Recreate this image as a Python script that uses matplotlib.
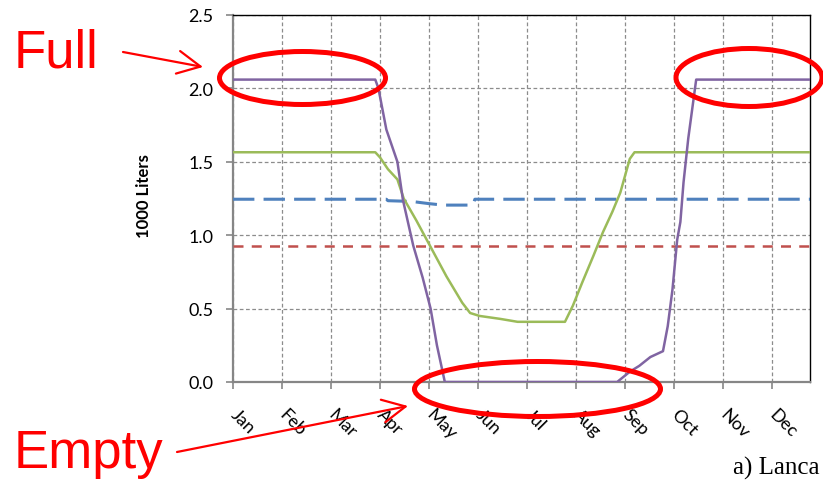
import matplotlib.pyplot as plt
from matplotlib.patches import Ellipse

W, H = 823, 481

# Tank level over the year (day of year -> 1000 liters)
purple_days = [0, 90, 92, 97, 104, 107.5, 114, 120, 125, 129, 134, 243, 251, 257,
               264, 272, 275, 278, 281, 283, 285, 288, 293, 365]
purple_vals = [2.06, 2.06, 2.0, 1.72, 1.50, 1.24, 0.93, 0.71, 0.50, 0.25, 0.0, 0.0, 0.07, 0.11,
               0.17, 0.21, 0.38, 0.63, 0.97, 1.09, 1.36, 1.66, 2.06, 2.06]

green_days = [0, 90, 93, 98, 104, 108, 116, 125, 135, 145, 150, 156, 169, 180,
              210, 215, 221, 228, 234, 240, 245, 251, 254, 365]
green_vals = [1.565, 1.565, 1.53, 1.45, 1.38, 1.25, 1.10, 0.92, 0.72, 0.54, 0.47, 0.45, 0.43, 0.41,
              0.41, 0.52, 0.68, 0.86, 1.02, 1.16, 1.29, 1.52, 1.565, 1.565]

blue_days = [0, 97, 98, 113, 124, 133, 150, 152, 153, 365]
blue_vals = [1.245, 1.245, 1.235, 1.23, 1.215, 1.205, 1.205, 1.21, 1.245, 1.245]

red_days = [0, 365]
red_vals = [0.925, 0.925]

months = ["Jan", "Feb", "Mar", "Apr", "May", "Jun",
          "Jul", "Aug", "Sep", "Oct", "Nov", "Dec"]
month_ticks = [31 * i for i in range(12)]


def px(x, y):
    # pixel position measured from the top-left -> figure fraction
    return x / W, 1 - y / H


fig = plt.figure(figsize=(W / 100, H / 100), dpi=100)
ax = fig.add_axes([233 / W, (H - 383) / H, (810 - 233) / W, (383 - 16) / H])

ax.plot(blue_days, blue_vals, color="#4F81BD", lw=2.2, dashes=(7, 3), zorder=3)
ax.plot(red_days, red_vals, color="#C0504D", lw=1.8, dashes=(4, 3.3), zorder=3)
ax.plot(green_days, green_vals, color="#9BBB59", lw=1.8, zorder=4)
ax.plot(purple_days, purple_vals, color="#8064A2", lw=1.8, zorder=5)

ax.set_xlim(0, 365)
ax.set_ylim(0, 2.5)
ax.set_yticks([0, 0.5, 1.0, 1.5, 2.0, 2.5])
ax.set_yticklabels(["0.0", "0.5", "1.0", "1.5", "2.0", "2.5"])
ax.set_xticks(month_ticks)
ax.set_xticklabels(months, rotation=-45, ha="left", va="center", rotation_mode="anchor")

ax.grid(True, color="#8c8c8c", lw=0.9, dashes=(3, 2))
ax.set_axisbelow(True)

for side in ("left", "bottom"):
    ax.spines[side].set_color("#868686")
    ax.spines[side].set_linewidth(1.6)
for side in ("top", "right"):
    ax.spines[side].set_color("black")
    ax.spines[side].set_linewidth(1.0)

ax.tick_params(axis="y", length=5, width=1.2, color="#868686", pad=9,
               labelsize=13, labelfontfamily="Lato")
ax.tick_params(axis="x", length=5, width=1.2, color="#868686", pad=16,
               labelsize=13, labelfontfamily="Lato")

fig.text(*px(144, 196), "1000 Liters", rotation=90, ha="center", va="center",
         fontsize=12, fontweight="bold", family="Lato")

# annotations: full / empty markers
for cx, cy, w, h in [(302.5, 79, 166, 53), (749, 78.5, 146, 58), (537.5, 390, 246, 55)]:
    fig.add_artist(Ellipse(px(cx, cy), w / W, h / H, transform=fig.transFigure,
                           fill=False, ec="#FF0000", lw=3.6, zorder=10))

fig.text(*px(14, 67), "Full", color="#FF0000", fontsize=38,
         family="Liberation Sans", va="baseline")
fig.text(*px(14, 468), "Empty", color="#FF0000", fontsize=38,
         family="Liberation Sans", va="baseline")

arrow = dict(arrowstyle="->,head_length=1.1,head_width=0.55", color="#FF0000",
             lw=1.6, shrinkA=0, shrinkB=0, mutation_scale=15)
ax.annotate("", xy=(203, H - 68), xytext=(123, H - 53), xycoords="figure pixels",
            textcoords="figure pixels", arrowprops=arrow, annotation_clip=False)
ax.annotate("", xy=(408, H - 407), xytext=(177, H - 453), xycoords="figure pixels",
            textcoords="figure pixels", arrowprops=arrow, annotation_clip=False)

fig.text(*px(733, 475), "a) Lanca", fontsize=18, family="Liberation Serif",
         va="baseline")

fig.savefig("out.png", dpi=100)
